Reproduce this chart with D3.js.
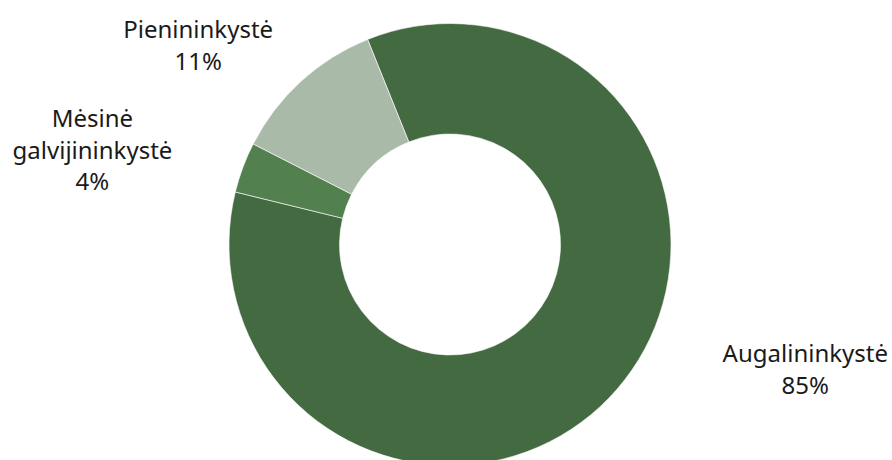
<!DOCTYPE html>
<html>
<head>
<meta charset="utf-8">
<script src="https://cdn.jsdelivr.net/npm/d3@7"></script>
<style>
body { margin: 0; background: #fff; }
text { font-family: "Noto Sans", "Open Sans", sans-serif; fill: #1a1a1a; }
</style>
</head>
<body>
<div id="chart"></div>
<script>
"use strict"

// data
var categories = ['Augalininkystė', 'Mėsinė galvijininkystė', 'Pienininkystė'];
var values = [84.9, 3.7, 11.4];
var labelLines = [['Augalininkystė'], ['Mėsinė', 'galvijininkystė'], ['Pienininkystė']];
var colors = ['#446a41', '#52804f', '#aabaa9'];

// label placement: angle (deg, clockwise from top) and distance from centre
var labelAngle = [109.4, -75.2, -51.7];
var labelDist = [376.7, 369.8, 320.9];

var width = 892, height = 460;
var cx = 450, cy = 244.5;
var outerR = 221, innerR = 110.5;
var startDeg = -21.9;
var fontSize = 24, lineH = 31.7;

var svg = d3.select("#chart")
    .append("svg")
    .attr("width", width)
    .attr("height", height);

var g = svg.append("g")
    .attr("transform", "translate(" + cx + "," + cy + ")");

var rad = Math.PI / 180;
var pie = d3.pie()
    .sort(null)
    .value(function(d) { return d; })
    .startAngle(startDeg * rad)
    .endAngle((startDeg + 360) * rad);

var arc = d3.arc()
    .innerRadius(innerR)
    .outerRadius(outerR);

var arcs = pie(values);

g.selectAll("path")
    .data(arcs)
    .enter()
    .append("path")
    .attr("d", arc)
    .attr("fill", function(d, i) { return colors[i]; })
    .attr("stroke", "#fff")
    .attr("stroke-width", 0.6);

// data labels: name lines + rounded percent
var total = d3.sum(values);
var labels = g.selectAll("g.label")
    .data(arcs)
    .enter()
    .append("g")
    .attr("class", "label")
    .attr("transform", function(d, i) {
        var a = labelAngle[i] * rad;
        return "translate(" + (Math.sin(a) * labelDist[i]) + "," + (-Math.cos(a) * labelDist[i]) + ")";
    });

labels.each(function(d, i) {
    var lines = labelLines[i].concat([Math.round(d.value / total * 100) + "%"]);
    var top = -(lines.length - 1) * lineH / 2;
    var t = d3.select(this).append("text")
        .attr("text-anchor", "middle")
        .style("font-size", fontSize + "px");
    lines.forEach(function(s, k) {
        t.append("tspan")
            .attr("x", 0)
            .attr("y", top + k * lineH + fontSize * 0.36)
            .text(s);
    });
});
</script>
</body>
</html>
